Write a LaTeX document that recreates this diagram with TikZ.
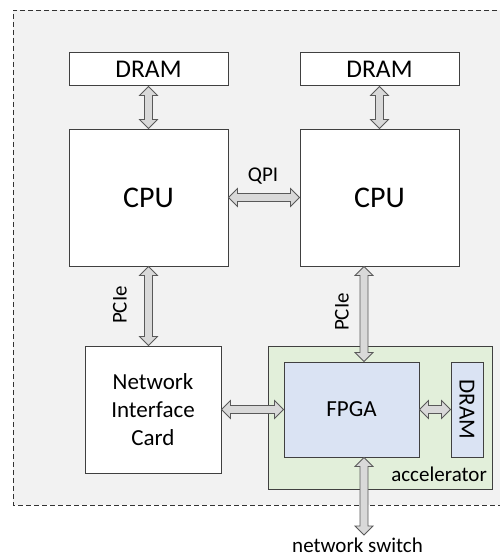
\documentclass[tikz,border=0pt]{standalone}
\usepackage{fontspec}
\setmainfont{Carlito}
\usepackage{graphicx}
\usetikzlibrary{calc}
\definecolor{bggray}{HTML}{F2F2F2}
\definecolor{accgreen}{HTML}{E2EFDA}
\definecolor{fpgablue}{HTML}{DAE3F3}
\definecolor{edgegray}{HTML}{404040}
\definecolor{busfill}{HTML}{D9D9D9}
\definecolor{busline}{HTML}{595959}
\begin{document}
\begin{tikzpicture}[x=1pt,y=-1pt,line join=miter,
		box/.style={draw=edgegray,line width=1pt,fill=white,inner sep=0pt,font=\fontsize{23}{28}\selectfont,align=center},
		bus/.style={draw=busline,fill=busfill,line width=0.8pt,to path={
			-- ($(\tikztostart)!9pt!(\tikztotarget)!9pt!90:(\tikztotarget)$)
			-- ($(\tikztostart)!9pt!(\tikztotarget)!4pt!90:(\tikztotarget)$)
			-- ($(\tikztotarget)!9pt!(\tikztostart)!4pt!-90:(\tikztostart)$)
			-- ($(\tikztotarget)!9pt!(\tikztostart)!9pt!-90:(\tikztostart)$)
			-- (\tikztotarget)
			-- ($(\tikztotarget)!9pt!(\tikztostart)!9pt!90:(\tikztostart)$)
			-- ($(\tikztotarget)!9pt!(\tikztostart)!4pt!90:(\tikztostart)$)
			-- ($(\tikztostart)!9pt!(\tikztotarget)!4pt!-90:(\tikztotarget)$)
			-- ($(\tikztostart)!9pt!(\tikztotarget)!9pt!-90:(\tikztotarget)$)
			-- cycle}},
		lbl/.style={font=\fontsize{21}{25}\selectfont,inner sep=0pt}]
	\useasboundingbox (0,0) rectangle (499,559);
	\fill[bggray] (13,10) rectangle (505,505);
	\draw[black!80,line width=0.9pt,dash pattern=on 5pt off 3pt] (505,10) -- (13,10) -- (13,505) -- (505,505);
	\node[box,minimum width=159pt,minimum height=33pt,font=\fontsize{25.5}{30}\selectfont] (dramL) at (148.5,69.5) {DRAM};
	\node[box,minimum width=159pt,minimum height=33pt,font=\fontsize{25.5}{30}\selectfont] (dramR) at (379.5,69.5) {DRAM};
	\node[box,minimum width=159pt,minimum height=137pt,font=\fontsize{30}{36}\selectfont] (cpuL) at (148.5,197.5) {CPU};
	\node[box,minimum width=159pt,minimum height=137pt,font=\fontsize{30}{36}\selectfont] (cpuR) at (379.5,197.5) {CPU};
	\node[box,minimum width=136pt,minimum height=127pt] (nic) at (153,409.5) {Network\\Interface\\Card};
	\node[box,fill=accgreen,minimum width=224pt,minimum height=143pt] (acc) at (380,417.5) {};
	\node[box,fill=fpgablue,minimum width=135pt,minimum height=95pt] (fpga) at (351.5,409.5) {FPGA};
	\node[box,fill=fpgablue,minimum width=32pt,minimum height=95pt] (dramF) at (467,409.5) {\rotatebox{-90}{DRAM}};
	\node[lbl,anchor=base east] (accl) at (487,481) {accelerator};
	\node[lbl,anchor=base] (qpi) at (263,181) {QPI};
	\node[lbl,rotate=90] (pcieL) at (120,305) {PCIe};
	\node[lbl,rotate=90] (pcieR) at (342,312) {PCIe};
	\node[lbl,anchor=base] (nsw) at (357.5,552) {network switch};
	\coordinate (pcieT) at ([xshift=12.5pt]fpga.north);
	\coordinate (sw) at (364,535);
	\draw[bus] (dramL.south) to (cpuL.north);
	\draw[bus] (dramR.south) to (cpuR.north);
	\draw[bus] (cpuL.east) to (cpuR.west);
	\draw[bus] (cpuL.south |- nic.north) to (cpuL.south);
	\draw[bus] (pcieT |- cpuR.south) to (pcieT);
	\draw[bus] (nic.east) to (fpga.west);
	\draw[bus] (fpga.east) to (dramF.west);
	\draw[bus] (fpga.south -| pcieT) to (sw);
\end{tikzpicture}
\end{document}
